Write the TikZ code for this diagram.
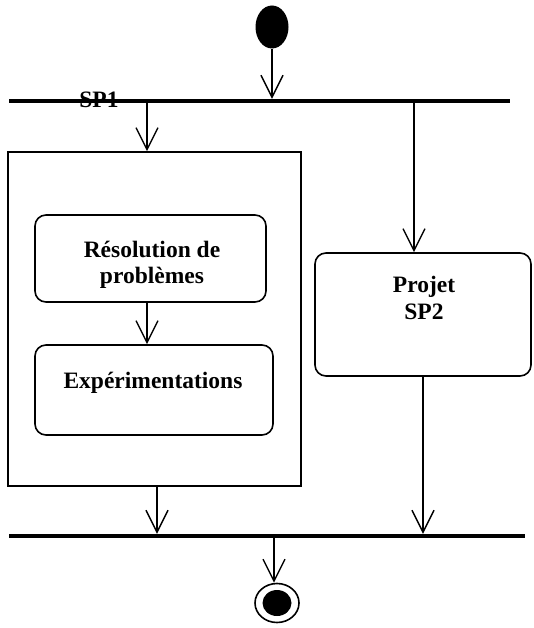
\documentclass[tikz,border=0pt]{standalone}
\usepackage{fontspec}
\setmainfont{Liberation Serif}
\usetikzlibrary{arrows.meta,shapes.geometric}
\begin{document}
\begin{tikzpicture}[x=1pt,y=-1pt,
  bar/.style={fill=black,inner sep=0pt,minimum height=4pt},
  flow/.style={line width=1.4pt,-{Straight Barb[length=22pt,width=22pt,line width=1.4pt]}},
  actbox/.style={draw,line width=1.6pt,rounded corners=11pt,inner sep=0pt},
  lbl/.style={font=\fontsize{23.5}{26.5}\selectfont\bfseries,align=center,inner sep=0pt}]
\useasboundingbox (0,0) rectangle (533,628);
% start
\node[ellipse,fill=black,inner sep=0pt,minimum width=33pt,minimum height=43pt] (start) at (272,27) {};
% bars
\node[bar,minimum width=501pt] (topbar) at (259.5,101) {};
\node[bar,minimum width=516pt] (botbar) at (267,536) {};
\node[lbl] (sp1) at (99,100) {SP1};
% container
\node[draw,line width=1.6pt,inner sep=0pt,minimum width=293pt,minimum height=334pt] (cont) at (154.5,319) {};
% activities
\node[actbox,minimum width=231pt,minimum height=87pt] (res) at (150.5,258.5) {};
\node[lbl] (restxt) at (152,265) {Résolution de\\problèmes};
\node[actbox,minimum width=238pt,minimum height=90pt] (exp) at (154,390) {};
\node[lbl] (exptxt) at (153,383) {Expérimentations};
\node[actbox,minimum width=216pt,minimum height=123pt] (proj) at (423,314.5) {};
\node[lbl] (projtxt) at (424,298) {Projet\\SP2};
% end
\node[ellipse,draw,line width=1.6pt,inner sep=0pt,minimum width=44pt,minimum height=39pt] (fin) at (277,603) {};
\node[ellipse,fill=black,inner sep=0pt,minimum width=29pt,minimum height=26pt] (finin) at (277,603) {};
% x positions of connectors
\coordinate (xa) at (147,0);
\coordinate (xb) at (414,0);
\coordinate (xc) at (157,0);
\coordinate (xd) at (274,0);
% connectors
\draw[flow] (start.south) -- (start.south |- topbar.north);
\draw[flow] (topbar.south -| xa) -- (xa |- cont.north);
\draw[flow] (res.south -| xa) -- (xa |- exp.north);
\draw[flow] (topbar.south -| xb) -- (xb |- proj.north);
\draw[flow] (cont.south -| xc) -- (xc |- botbar.north);
\draw[flow] (proj.south) -- (proj.south |- botbar.north);
\draw[flow] (botbar.south -| xd) -- (xd |- fin.north);
\end{tikzpicture}
\end{document}
